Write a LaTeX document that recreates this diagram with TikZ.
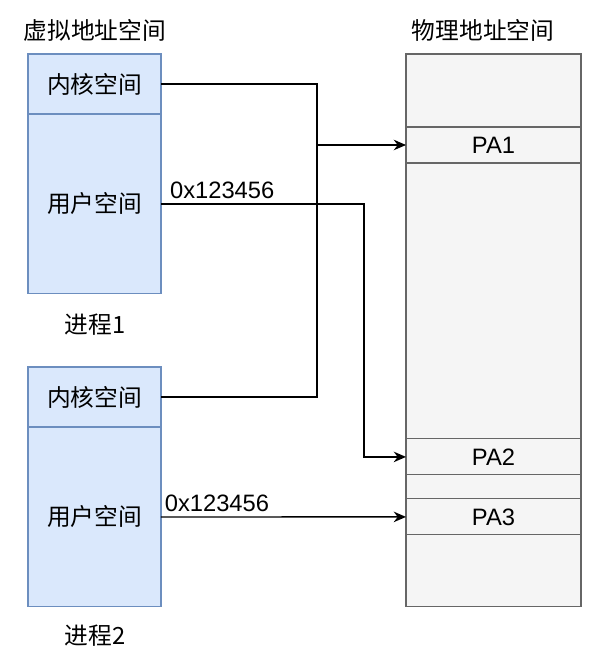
\documentclass[tikz,border=0pt]{standalone}
\usepackage{fontspec}
\setmainfont{Liberation Sans}
\newfontfamily\cjk{Noto Sans CJK SC}
\usetikzlibrary{arrows.meta,positioning}
\definecolor{vfill}{HTML}{DAE8FC}
\definecolor{vline}{HTML}{6C8EBF}
\definecolor{pfill}{HTML}{F5F5F5}
\definecolor{pline}{HTML}{666666}
\tikzset{
	txt/.style={font=\fontsize{13.5pt}{16pt}\selectfont, inner sep=1pt},
	vseg/.style={txt, draw=vline, fill=vfill, line width=0.6pt, minimum width=2.66cm, inner sep=0pt, outer sep=0pt},
	pseg/.style={txt, draw=pline, fill=pfill, line width=0.6pt, minimum width=3.5cm, inner sep=0pt, outer sep=0pt},
	link/.style={line width=0.8pt},
	tip/.style={link, -{Stealth[length=7pt,width=6pt]}}
}

\begin{document}
\begin{tikzpicture}[x=0.02cm, y=-0.02cm]
	\useasboundingbox (0,0) rectangle (600,663);
	% virtual address spaces
	\node[txt] (vtitle) at (95,30) {\cjk 虚拟地址空间};
	\node[vseg, minimum height=1.2cm] (k1) at (94.5,84) {\cjk 内核空间};
	\node[vseg, minimum height=3.6cm, below=0pt of k1] (u1) {\cjk 用户空间};
	\node[txt] (p1) at (95,325) {\cjk 进程1};
	\node[vseg, minimum height=1.2cm] (k2) at (94.5,397) {\cjk 内核空间};
	\node[vseg, minimum height=3.6cm, below=0pt of k2] (u2) {\cjk 用户空间};
	\node[txt] (p2) at (95,636) {\cjk 进程2};
	% physical address space
	\node[txt] (ptitle) at (483,30) {\cjk 物理地址空间};
	\node[pseg, minimum height=1.46cm] (top) at (493.5,90.5) {};
	\node[pseg, minimum height=0.72cm, below=0pt of top] (pa1) {PA1};
	\node[pseg, minimum height=5.52cm, below=0pt of pa1] (mid) {};
	\node[pseg, minimum height=0.72cm, below=0pt of mid] (pa2) {PA2};
	\node[pseg, minimum height=0.48cm, below=0pt of pa2] (gap) {};
	\node[pseg, minimum height=0.72cm, below=0pt of gap] (pa3) {PA3};
	\node[pseg, minimum height=1.44cm, below=0pt of pa3] (bot) {};
	% mappings
	\coordinate (bus) at (317,0);
	\coordinate (turn) at (364,0);
	\draw[link] (k1.east) -| (bus |- k2.east) -- (k2.east);
	\draw[tip] (bus |- pa1.west) -- (pa1.west);
	\draw[tip] (u1.east) -| (turn |- pa2.west) -- (pa2.west);
	\draw[tip] (u2.east) -- (pa3.west);
	\node[txt, above right=2pt and 4pt of u1.east] (a1) {0x123456};
	\node[txt, above right=2pt and 1pt of u2.east] (a2) {0x123456};
\end{tikzpicture}
\end{document}
